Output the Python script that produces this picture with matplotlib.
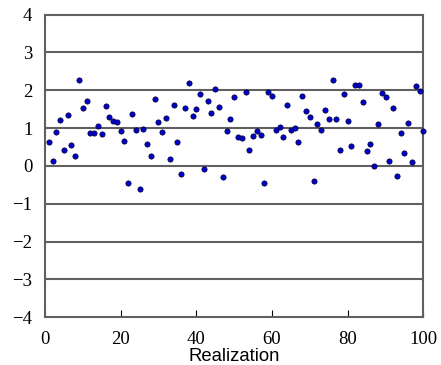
import numpy as np
import matplotlib.pyplot as plt

# realization index and sampled value
realization = np.arange(1, 101)
values = [
    0.64, 0.14, 0.89, 1.21, 0.43, 1.34, 0.56, 0.26, 2.28, 1.53,
    1.72, 0.86, 0.86, 1.05, 0.85, 1.59, 1.29, 1.19, 1.15, 0.91,
    0.65, -0.45, 1.38, 0.94, -0.62, 0.97, 0.58, 0.26, 1.78, 1.16,
    0.90, 1.26, 0.19, 1.61, 0.64, -0.22, 1.52, 2.20, 1.33, 1.51,
    1.91, -0.09, 1.72, 1.41, 2.04, 1.57, -0.29, 0.93, 1.24, 1.83,
    0.76, 0.73, 1.96, 0.41, 0.80, 0.93, 0.81, -0.45, 1.96, 1.86,
    0.95, 1.02, 0.77, 1.60, 0.96, 1.00, 0.63, 1.84, 1.46, 1.30,
    -0.41, 1.11, 0.94, 1.48, 1.23, 2.28, 1.23, 0.43, 1.90, 1.18,
    0.53, 2.14, 2.13, 1.68, 0.40, 0.59, 0.00, 1.10, 1.93, 1.81,
    0.13, 1.53, -0.26, 0.86, 0.35, 1.14, 0.11, 2.11, 1.98, 0.93,
]
x_ticks = [0, 20, 40, 60, 80, 100]
y_ticks = [-4, -3, -2, -1, 0, 1, 2, 3, 4]

fig = plt.figure(figsize=(4.41, 3.65), dpi=100)
ax = fig.add_axes([0.102, 0.131, 0.858, 0.829])

# horizontal grid lines at each integer
for yv in y_ticks[1:-1]:
    ax.axhline(yv, color='#606060', lw=1.5, zorder=1)

ax.plot(realization, values, 'o', ms=3.8, mfc='#0000c8', mec='#000033',
        mew=0.5, zorder=3, clip_on=False)

ax.set_xlim(0, 100)
ax.set_ylim(-4, 4)
ax.set_xticks(x_ticks)
ax.set_yticks(y_ticks)
ax.set_xticklabels([str(t) for t in x_ticks], family='Liberation Serif', fontsize=13.5)
ax.set_yticklabels([str(t).replace('-', '\u2212') for t in y_ticks],
                   family='Liberation Serif', fontsize=13.5)
ax.tick_params(axis='x', direction='in', length=5, width=0.8, color='black', pad=10)
ax.tick_params(axis='y', length=0, pad=9)

for s in ax.spines.values():
    s.set_color('#606060')
    s.set_linewidth(1.5)

ax.set_xlabel('Realization', family='Liberation Sans', fontsize=13.3, labelpad=0)

fig.savefig('out.png', dpi=100)
